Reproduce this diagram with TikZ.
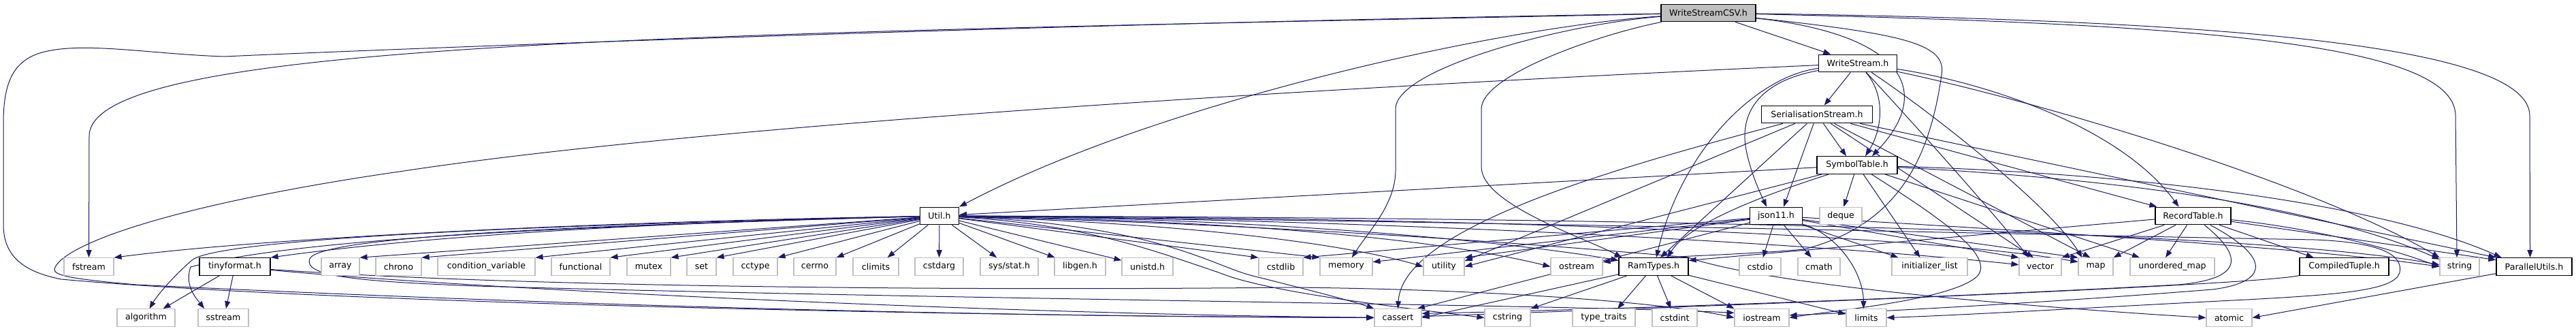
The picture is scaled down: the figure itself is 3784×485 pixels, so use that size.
\documentclass[tikz,border=0pt]{standalone}
\usepackage{fontspec}
\newfontfamily\dfont{DejaVu Sans}
\usetikzlibrary{arrows.meta}
\definecolor{edgeblue}{HTML}{191970}
\definecolor{greyseventyfive}{HTML}{BFBFBF}
\pgfdeclarelayer{edgelayer}
\pgfsetlayers{edgelayer,main}
\tikzset{
  box/.style={draw=black, line width=1.3pt, minimum height=25.5pt, inner sep=0pt, fill=white,
    font={\dfont\fontsize{12.6}{15}\selectfont}, text=black},
  ext/.style={box, draw=greyseventyfive, line width=1.1pt},
  rootbox/.style={box, fill=greyseventyfive},
  e/.style={draw=edgeblue, line width=1pt, -{Triangle[length=11pt,width=8pt]}}
}
\begin{document}
\begin{tikzpicture}[x=1pt,y=-1pt]
\useasboundingbox (0,0) rectangle (3784,485);
% ---------- nodes ----------
\node[rootbox, minimum width=139pt] (R) at (2509.5,19) {WriteStreamCSV.h};
\node[box, minimum width=115pt] (WS) at (2729,93) {WriteStream.h};
\node[box, minimum width=163pt] (SS) at (2669,168) {SerialisationStream.h};
\node[box, minimum width=118pt] (ST) at (2728,242.5) {SymbolTable.h};
\node[box, minimum width=57pt] (U) at (1380,317) {Util.h};
\node[box, minimum width=77pt] (J) at (2609,317) {json11.h};
\node[ext, minimum width=62pt] (deque) at (2704,317) {deque};
\node[box, minimum width=111pt] (RTab) at (3221.5,317) {RecordTable.h};
% row 5
\node[ext, minimum width=73pt] (fstream) at (130.5,391.5) {fstream};
\node[box, minimum width=104pt] (tiny) at (345,391.5) {tinyformat.h};
\node[ext, minimum width=56pt] (array) at (500,391.5) {array};
\node[ext, minimum width=67pt] (chrono) at (585.5,391.5) {chrono};
\node[ext, minimum width=143pt] (condvar) at (714.5,391.5) {condition\_variable};
\node[ext, minimum width=86pt] (functional) at (853,391.5) {functional};
\node[ext, minimum width=64pt] (mutex) at (953,391.5) {mutex};
\node[ext, minimum width=43pt] (set) at (1030.5,391.5) {set};
\node[ext, minimum width=65pt] (cctype) at (1109.5,391.5) {cctype};
\node[ext, minimum width=62pt] (cerrno) at (1197,391.5) {cerrno};
\node[ext, minimum width=67pt] (climits) at (1286.5,391.5) {climits};
\node[ext, minimum width=71pt] (cstdarg) at (1379.5,391.5) {cstdarg};
\node[ext, minimum width=85pt] (sysstat) at (1482.5,391.5) {sys/stat.h};
\node[ext, minimum width=75pt] (libgen) at (1586.5,391.5) {libgen.h};
\node[ext, minimum width=75pt] (unistd) at (1685.5,391.5) {unistd.h};
\node[ext, minimum width=65pt] (cstdlib) at (1881.5,391.5) {cstdlib};
\node[ext, minimum width=77pt] (memory) at (1977.5,391.5) {memory};
\node[ext, minimum width=60pt] (utility) at (2121,391.5) {utility};
\node[ext, minimum width=76pt] (ostream) at (2316,391.5) {ostream};
\node[box, minimum width=102pt] (RamT) at (2429,391.5) {RamTypes.h};
\node[ext, minimum width=61pt] (cstdio) at (2585.5,391.5) {cstdio};
\node[ext, minimum width=62pt] (cmath) at (2672,391.5) {cmath};
\node[ext, minimum width=111pt] (initlist) at (2834.5,391.5) {initializer\_list};
\node[ext, minimum width=62pt] (vector) at (2997,391.5) {vector};
\node[ext, minimum width=51pt] (map) at (3078.5,391.5) {map};
\node[ext, minimum width=124pt] (umap) at (3191,391.5) {unordered\_map};
\node[box, minimum width=131pt] (CT) at (3443.5,391.5) {CompiledTuple.h};
\node[ext, minimum width=58pt] (string) at (3613,391.5) {string};
\node[box, minimum width=111pt] (PU) at (3722.5,391.5) {ParallelUtils.h};
% row 6
\node[ext, minimum width=85pt] (algorithm) at (214.5,466.5) {algorithm};
\node[ext, minimum width=74pt] (sstream) at (328,466.5) {sstream};
\node[ext, minimum width=69pt] (cassert) at (2053.5,466.5) {cassert};
\node[ext, minimum width=67pt] (cstring) at (2214.5,466.5) {cstring};
\node[ext, minimum width=92pt] (typetraits) at (2356,466.5) {type\_traits};
\node[ext, minimum width=66pt] (cstdint) at (2460,466.5) {cstdint};
\node[ext, minimum width=80pt] (iostream) at (2588,466.5) {iostream};
\node[ext, minimum width=59pt] (limits) at (2741.5,466.5) {limits};
\node[ext, minimum width=67pt] (atomic) at (3274.5,466.5) {atomic};
% ---------- edges (drawn behind the boxes) ----------
\begin{pgfonlayer}{edgelayer}
\fill[white] (0,0) rectangle (3784,485);
% WriteStreamCSV.h
\draw[e] (R) -- (WS);
\draw[e] (R) .. controls (2790,50) and (2845,130) .. ([xshift=22pt]ST.north);
\draw[e] (R) .. controls (2800,50) and (2860,65) .. (2852,110) .. controls (2835,230) and (2790,330) .. (2650,366) .. controls (2550,375) and (2420,377) .. (ostream.10);
\draw[e] (R) .. controls (2200,40) and (1700,150) .. (U.north east);
\draw[e] (R) .. controls (1000,50) and (131,60) .. (131,200) -- (fstream);
\draw[e] (R) .. controls (1500,35) and (500,75) .. (330,83) .. controls (230,80) and (130,62) .. (70,75) .. controls (20,85) and (5,120) .. (5,180) -- (5,330) .. controls (5,380) and (40,400) .. (90,410) .. controls (500,447) and (1500,465) .. (cassert);
\draw[e] (R) .. controls (2300,35) and (2050,100) .. (2050,160) -- (2050,250) .. controls (2050,300) and (2010,340) .. (memory);
\draw[e] (R) .. controls (2350,50) and (2176,110) .. (2176,160) -- (2176,245) .. controls (2176,300) and (2330,350) .. ([xshift=5pt]RamT.north west);
\draw[e] (R) .. controls (3200,35) and (3607,60) .. (3607,170) -- ([xshift=-4pt]string.north);
\draw[e] (R) .. controls (3300,30) and (3716,70) .. (3716,170) -- ([xshift=-6pt]PU.north);
% WriteStream.h
\draw[e] (WS) -- (SS);
\draw[e] ([xshift=12pt]WS.south) .. controls (2770,140) and (2765,190) .. ([xshift=12pt]ST.north);
\draw[e] (WS) .. controls (2580,120) and (2555,170) .. (2565,220) .. controls (2572,255) and (2585,282) .. ([xshift=-14pt]J.north);
\draw[e] (WS) .. controls (2580,112) and (2470,220) .. ([xshift=4pt]RamT.north);
\draw[e] (WS) .. controls (1800,135) and (1000,190) .. (600,250) .. controls (250,300) and (90,360) .. (80,395) .. controls (78,405) and (110,410) .. (200,418) .. controls (900,452) and (1500,465) .. (cassert);
\draw[e] (WS) .. controls (2900,118) and (3110,180) .. ([xshift=-21pt]RTab.north);
\draw[e] (WS) .. controls (2810,180) and (2935,320) .. ([xshift=-17pt]vector.north);
\draw[e] (WS) .. controls (2830,160) and (3010,300) .. ([xshift=-20pt]map.north);
\draw[e] (WS) .. controls (3000,150) and (3400,270) .. (string.north west);
% SerialisationStream.h
\draw[e] (SS) -- ([xshift=-16pt]ST.north);
\draw[e] (SS) -- ([xshift=11pt]J.north);
\draw[e] (SS) -- ([xshift=10pt]RamT.north);
\draw[e] (SS) .. controls (2400,240) and (2060,330) .. (cassert.north);
\draw[e] (SS) -- (utility.15);
\draw[e] (SS) -- ([xshift=3pt]RTab.north west);
\draw[e] (SS) -- ([xshift=-10pt]vector.north);
\draw[e] (SS) -- ([xshift=-8pt]map.north);
\draw[e] (SS) -- (PU.north west);
% SymbolTable.h
\draw[e] (ST) -- (U);
\draw[e] (ST) .. controls (2580,290) and (2480,330) .. ([xshift=20pt]RamT.north);
\draw[e] (ST) -- (utility.east);
\draw[e] (ST) -- (deque);
\draw[e] (ST) -- ([xshift=-14pt]initlist.north);
\draw[e] (ST) .. controls (2850,320) and (2930,375) .. (2905,405) .. controls (2870,440) and (2700,455) .. (iostream.east);
\draw[e] (ST) -- ([xshift=-48pt]umap.north);
\draw[e] (ST) .. controls (3100,262) and (3400,300) .. (string.160);
\draw[e] (ST) .. controls (3150,255) and (3500,300) .. ([xshift=8pt]PU.north west);
% json11.h
\draw[e] (J) -- (cassert.25);
\draw[e] (J) -- (cstdlib.north east);
\draw[e] (J) -- (memory.10);
\draw[e] (J) -- (utility.north east);
\draw[e] (J) -- (cstdio);
\draw[e] (J) -- (cmath);
\draw[e] (J) .. controls (2700,345) and (2737,400) .. ([xshift=-4pt]limits.north);
\draw[e] (J) -- ([xshift=10pt]initlist.north west);
\draw[e] (J) -- (vector.north west);
\draw[e] (J) -- (map.north west);
\draw[e] (J) .. controls (3000,340) and (3400,365) .. (string.west);
% Util.h, left side
\draw[e] (U) .. controls (900,325) and (400,348) .. (fstream.north east);
\draw[e] (U) .. controls (900,328) and (600,350) .. (tiny.north east);
\draw[e] (U) -- (array.north east);
\draw[e] (U) -- (chrono.north east);
\draw[e] (U) -- (condvar.north east);
\draw[e] (U) -- (functional.north east);
\draw[e] (U) -- (mutex.north east);
\draw[e] (U) -- (set.north east);
\draw[e] (U) -- (cctype.north east);
\draw[e] (U) -- (cerrno.north east);
\draw[e] (U) -- ([xshift=-17pt]climits.north east);
\draw[e] (U) -- (cstdarg);
\draw[e] (U) .. controls (800,330) and (320,350) .. (282,382) .. controls (255,405) and (230,435) .. ([xshift=5pt]algorithm.north);
\draw[e] (U) .. controls (800,333) and (430,352) .. (280,392) .. controls (270,420) and (290,440) .. ([xshift=-28pt]sstream.north);
\draw[e] (U) .. controls (900,330) and (470,345) .. (455,380) .. controls (445,405) and (520,413) .. (700,420) .. controls (1400,440) and (2300,447) .. (iostream.170);
% Util.h, right side
\draw[e] (U) -- (sysstat);
\draw[e] (U) -- (libgen);
\draw[e] (U) -- (unistd);
\draw[e] (U) -- (cstdlib.north west);
\draw[e] (U) -- (memory.north west);
\draw[e] (U) .. controls (1800,330) and (2000,365) .. (utility.west);
\draw[e] (U) .. controls (1900,325) and (2150,360) .. (ostream.west);
\draw[e] (U) .. controls (1900,320) and (2250,360) .. (RamT.170);
\draw[e] (U) .. controls (2100,322) and (2750,365) .. (vector.175);
\draw[e] (U) .. controls (2300,320) and (2850,350) .. (map.165);
\draw[e] (U) .. controls (2600,320) and (3350,345) .. (string.175);
\draw[e] (U) .. controls (2200,325) and (3000,345) .. (3400,352) .. controls (3500,356) and (3530,375) .. (3525,400) .. controls (3518,425) and (3450,432) .. (3300,440) .. controls (3100,450) and (2900,462) .. (limits.east);
\draw[e] (U) .. controls (1900,330) and (2300,362) .. (2480,378) .. controls (2600,420) and (3000,452) .. (atomic.west);
\draw[e] (U) .. controls (1600,330) and (1700,370) .. (1790,400) .. controls (1850,425) and (2000,445) .. (cstring.west);
\draw[e] (U) .. controls (1700,330) and (1780,390) .. (1840,405) .. controls (1900,420) and (1980,440) .. (cassert.north west);
% tinyformat.h
\draw[e] (tiny) -- ([xshift=25pt]algorithm.north);
\draw[e] (tiny) -- ([xshift=4pt]sstream.north);
\draw[e] (tiny) .. controls (700,425) and (1500,462) .. (cassert);
\draw[e] (tiny) .. controls (700,418) and (1300,428) .. (1900,422) .. controls (2200,425) and (2450,445) .. (iostream.west);
% RamTypes.h
\draw[e] (RamT) -- (cassert.east);
\draw[e] (RamT) -- (cstring.north east);
\draw[e] (RamT) -- ([xshift=20pt]typetraits.north);
\draw[e] (RamT) -- (cstdint);
\draw[e] (RamT) -- (iostream.north west);
\draw[e] (RamT) -- (limits.170);
% RecordTable.h
\draw[e] (RTab) -- (RamT.10);
\draw[e] (RTab) -- (vector.north east);
\draw[e] (RTab) -- (map.north east);
\draw[e] (RTab) -- ([xshift=-10pt]umap.north);
\draw[e] (RTab) -- ([xshift=-45pt]CT.north);
\draw[e] (RTab) .. controls (3350,330) and (3470,350) .. (string.west);
\draw[e] (RTab) -- (PU.170);
\draw[e] (RTab) .. controls (3300,380) and (3290,410) .. (3200,418) .. controls (2800,440) and (2300,456) .. (cassert.10);
\draw[e] (RTab) .. controls (3340,380) and (3330,415) .. (3250,425) .. controls (3000,445) and (2750,458) .. (iostream.5);
% CompiledTuple.h
\draw[e] (CT) .. controls (3300,420) and (2500,450) .. (cassert.3);
% ParallelUtils.h
\draw[e] (PU) -- (atomic.east);
\end{pgfonlayer}
\end{tikzpicture}
\end{document}
